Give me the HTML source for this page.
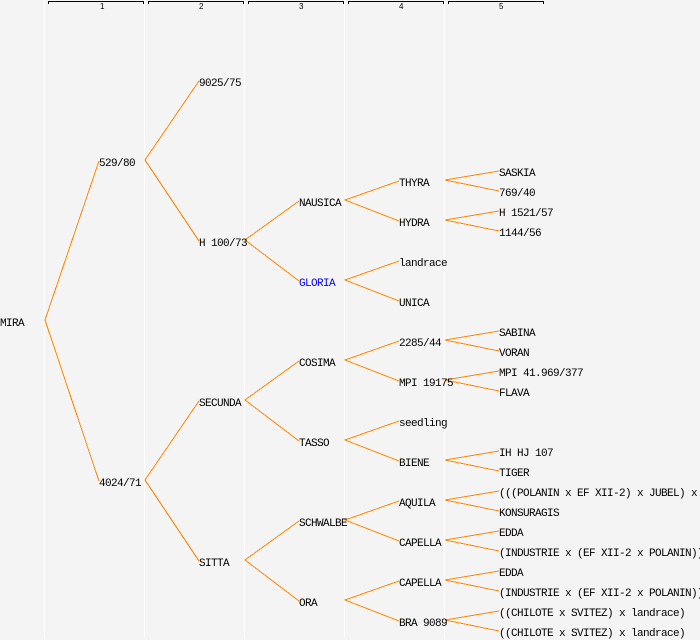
<!DOCTYPE html>
<html><head><meta charset="utf-8"><style>
html,body{margin:0;padding:0;background:#f4f4f4;}
svg{display:block;}
text{font-family:"Liberation Mono",monospace;font-size:11px;letter-spacing:-0.6px;fill:#000;}
text.h{font-size:8px;letter-spacing:0;font-family:"Liberation Sans",sans-serif;}
</style></head><body>
<svg width="700" height="640" viewBox="0 0 700 640" xmlns="http://www.w3.org/2000/svg">
<rect width="700" height="640" fill="#f4f4f4"/>
<g stroke="#ffffff" stroke-width="1" shape-rendering="crispEdges">
<line x1="44.5" y1="0" x2="44.5" y2="638"/>
<line x1="144.5" y1="0" x2="144.5" y2="638"/>
<line x1="244.5" y1="0" x2="244.5" y2="638"/>
<line x1="344.5" y1="0" x2="344.5" y2="638"/>
<line x1="444.5" y1="0" x2="444.5" y2="638"/>
</g>
<g stroke="#000" stroke-width="1" fill="none" shape-rendering="crispEdges">
<path d="M48.5 4 V1.5 H143.5 V4"/>
<path d="M148.5 4 V1.5 H243.5 V4"/>
<path d="M248.5 4 V1.5 H343.5 V4"/>
<path d="M348.5 4 V1.5 H443.5 V4"/>
<path d="M448.5 4 V1.5 H543.5 V4"/>
</g>
<g>
<text class="h" x="100" y="9">1</text>
<text class="h" x="199" y="9">2</text>
<text class="h" x="299" y="9">3</text>
<text class="h" x="399" y="9">4</text>
<text class="h" x="499" y="9">5</text>
</g>
<g stroke="#ff8800" stroke-width="1" fill="none" shape-rendering="crispEdges">
<path d="M99 161 L45 320 L99 481"/>
<path d="M199 81 L145 160 L199 241"/>
<path d="M199 401 L145 480 L199 561"/>
<path d="M299 201 L245 240 L299 281"/>
<path d="M299 361 L245 400 L299 441"/>
<path d="M299 521 L245 560 L299 601"/>
<path d="M399 181 L345 200 L399 221"/>
<path d="M399 261 L345 280 L399 301"/>
<path d="M399 341 L345 360 L399 381"/>
<path d="M399 421 L345 440 L399 461"/>
<path d="M399 501 L345 520 L399 541"/>
<path d="M399 581 L345 600 L399 621"/>
<path d="M499 171 L445 180 L499 191"/>
<path d="M499 211 L445 220 L499 231"/>
<path d="M499 331 L445 340 L499 351"/>
<path d="M499 371 L445 380 L499 391"/>
<path d="M499 451 L445 460 L499 471"/>
<path d="M499 491 L445 500 L499 511"/>
<path d="M499 531 L445 540 L499 551"/>
<path d="M499 571 L445 580 L499 591"/>
<path d="M499 611 L445 620 L499 631"/>
</g>
<g>
<text x="0" y="326">MIRA</text>
<text x="99" y="166">529/80</text>
<text x="99" y="486">4024/71</text>
<text x="199" y="86">9025/75</text>
<text x="199" y="246">H 100/73</text>
<text x="199" y="406">SECUNDA</text>
<text x="199" y="566">SITTA</text>
<text x="299" y="206">NAUSICA</text>
<text x="299" y="286" style="fill:#0000ff">GLORIA</text>
<text x="299" y="366">COSIMA</text>
<text x="299" y="446">TASSO</text>
<text x="299" y="526">SCHWALBE</text>
<text x="299" y="606">ORA</text>
<text x="399" y="186">THYRA</text>
<text x="399" y="226">HYDRA</text>
<text x="399" y="266">landrace</text>
<text x="399" y="306">UNICA</text>
<text x="399" y="346">2285/44</text>
<text x="399" y="386">MPI 19175</text>
<text x="399" y="426">seedling</text>
<text x="399" y="466">BIENE</text>
<text x="399" y="506">AQUILA</text>
<text x="399" y="546">CAPELLA</text>
<text x="399" y="586">CAPELLA</text>
<text x="399" y="626">BRA 9089</text>
<text x="499" y="176">SASKIA</text>
<text x="499" y="196">769/40</text>
<text x="499" y="216">H 1521/57</text>
<text x="499" y="236">1144/56</text>
<text x="499" y="336">SABINA</text>
<text x="499" y="356">VORAN</text>
<text x="499" y="376">MPI 41.969/377</text>
<text x="499" y="396">FLAVA</text>
<text x="499" y="456">IH HJ 107</text>
<text x="499" y="476">TIGER</text>
<text x="499" y="496">(((POLANIN x EF XII-2) x JUBEL) x</text>
<text x="499" y="516">KONSURAGIS</text>
<text x="499" y="536">EDDA</text>
<text x="499" y="556">(INDUSTRIE x (EF XII-2 x POLANIN))</text>
<text x="499" y="576">EDDA</text>
<text x="499" y="596">(INDUSTRIE x (EF XII-2 x POLANIN))</text>
<text x="499" y="616">((CHILOTE x SVITEZ) x landrace)</text>
<text x="499" y="636">((CHILOTE x SVITEZ) x landrace)</text>
</g>
</svg>
</body></html>
